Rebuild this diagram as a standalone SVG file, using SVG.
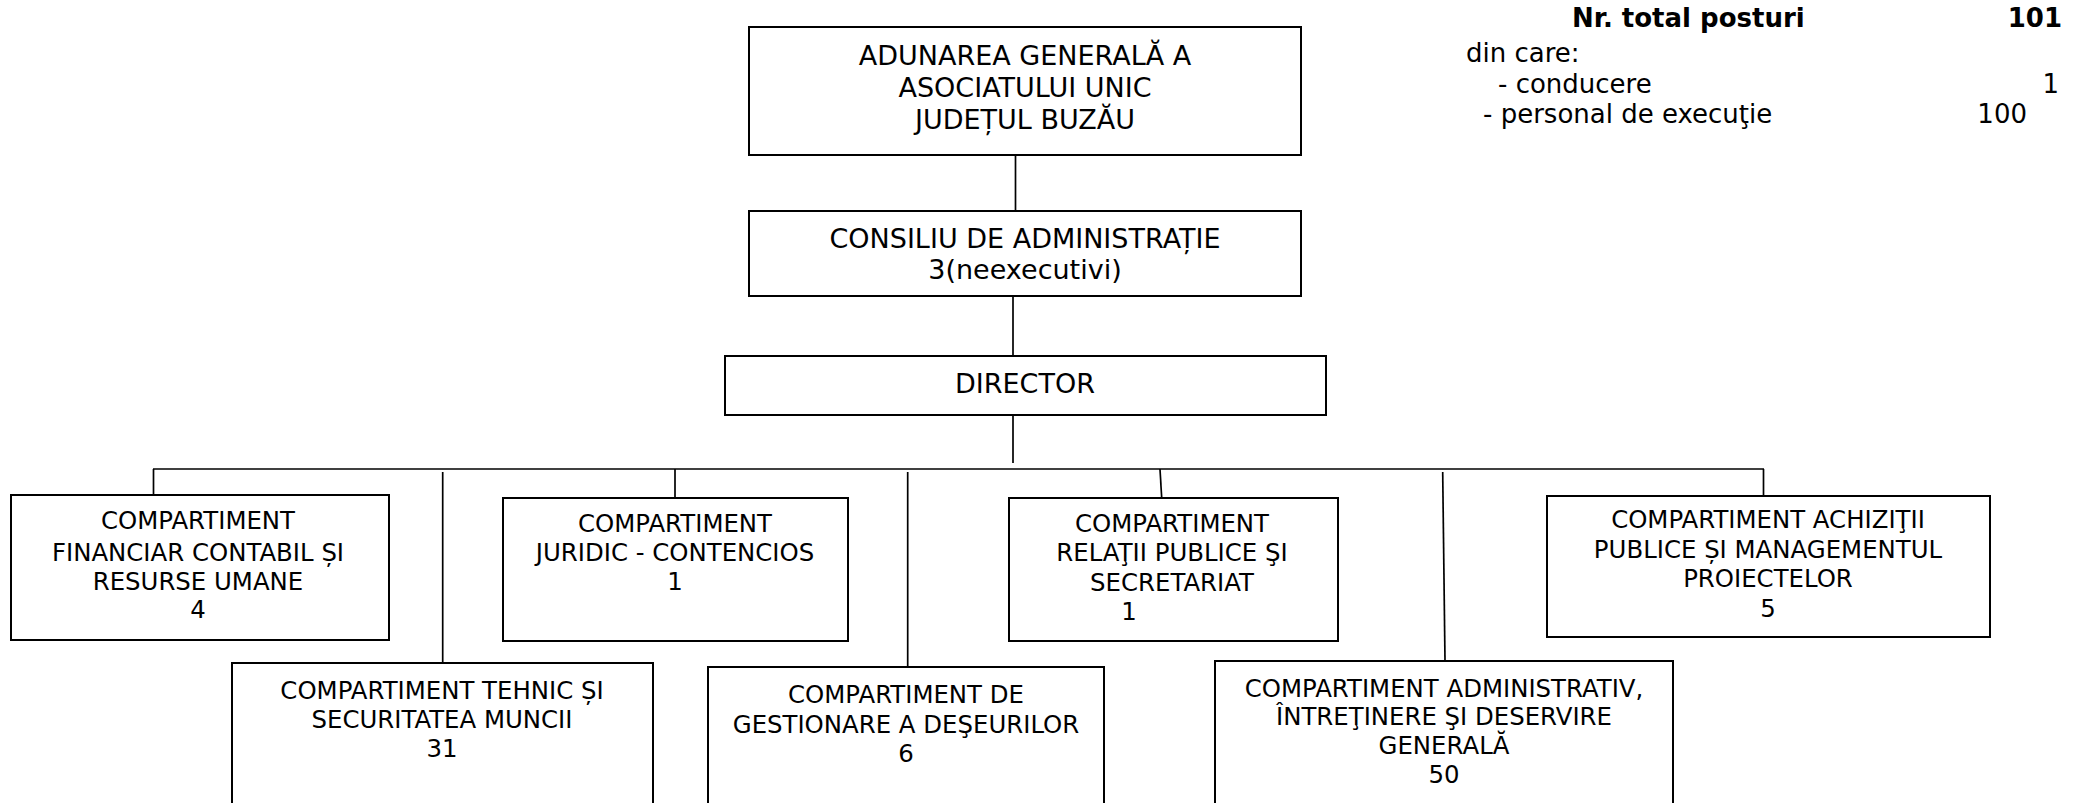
<svg xmlns="http://www.w3.org/2000/svg" width="2087" height="803" viewBox="0 0 2087 803">
<style>
  .box { fill: #fff; stroke: #000; stroke-width: 2; }
  .ln { stroke: #000; stroke-width: 1.7; fill: none; }
  .t { font-family: "DejaVu Sans", Verdana, sans-serif; fill: #000; text-anchor: middle; }
  .big { font-size: 27px; }
  .sm { font-size: 24.4px; }
  .hd { font-family: "DejaVu Sans", Verdana, sans-serif; font-size: 26px; fill: #000; }
  .b { font-weight: bold; }
  .end { text-anchor: end; }
</style>
<rect width="2087" height="803" fill="#fff"/>
<g id="connectors">
  <line class="ln" x1="1015.5" y1="155" x2="1015.5" y2="211"/>
  <line class="ln" x1="1013" y1="296" x2="1013" y2="356"/>
  <line class="ln" x1="1013" y1="415" x2="1013" y2="463"/>
  <line class="ln" x1="153" y1="469" x2="1764" y2="469"/>
  <line class="ln" x1="153.5" y1="469" x2="153.5" y2="495"/>
  <line class="ln" x1="675" y1="469" x2="675" y2="498"/>
  <line class="ln" x1="1160" y1="469" x2="1161.7" y2="498"/>
  <line class="ln" x1="1763.5" y1="469" x2="1763.5" y2="496"/>
  <line class="ln" x1="442.7" y1="472" x2="442.7" y2="663"/>
  <line class="ln" x1="907.7" y1="472" x2="907.7" y2="667"/>
  <line class="ln" x1="1442.7" y1="472" x2="1445" y2="661"/>
</g>
<g id="adunarea">
  <rect class="box" x="749" y="27" width="552" height="128"/>
  <text class="t big" x="1025" y="65">ADUNAREA GENERALĂ A</text>
  <text class="t big" x="1025" y="97">ASOCIATULUI UNIC</text>
  <text class="t big" x="1025" y="129">JUDEȚUL BUZĂU</text>
</g>
<g id="consiliu">
  <rect class="box" x="749" y="211" width="552" height="85"/>
  <text class="t big" x="1025" y="248">CONSILIU DE ADMINISTRAȚIE</text>
  <text class="t big" x="1025" y="279">3(neexecutivi)</text>
</g>
<g id="director">
  <rect class="box" x="725" y="356" width="601" height="59"/>
  <text class="t big" x="1025" y="393">DIRECTOR</text>
</g>
<g id="financiar">
  <rect class="box" x="11" y="495" width="378" height="145"/>
  <text class="t sm" x="198" y="529">COMPARTIMENT</text>
  <text class="t sm" x="198" y="561">FINANCIAR CONTABIL ȘI</text>
  <text class="t sm" x="198" y="590">RESURSE UMANE</text>
  <text class="t sm" x="198" y="618">4</text>
</g>
<g id="juridic">
  <rect class="box" x="503" y="498" width="345" height="143"/>
  <text class="t sm" x="675" y="532">COMPARTIMENT</text>
  <text class="t sm" x="675" y="561">JURIDIC - CONTENCIOS</text>
  <text class="t sm" x="675" y="590">1</text>
</g>
<g id="relatii">
  <rect class="box" x="1009" y="498" width="329" height="143"/>
  <text class="t sm" x="1172" y="532">COMPARTIMENT</text>
  <text class="t sm" x="1172" y="561">RELAŢII PUBLICE ŞI</text>
  <text class="t sm" x="1172" y="591">SECRETARIAT</text>
  <text class="t sm" x="1129" y="620">1</text>
</g>
<g id="achizitii">
  <rect class="box" x="1547" y="496" width="443" height="141"/>
  <text class="t sm" x="1768" y="528">COMPARTIMENT ACHIZIŢII</text>
  <text class="t sm" x="1768" y="558">PUBLICE ȘI MANAGEMENTUL</text>
  <text class="t sm" x="1768" y="587">PROIECTELOR</text>
  <text class="t sm" x="1768" y="617">5</text>
</g>
<g id="tehnic">
  <rect class="box" x="232" y="663" width="421" height="160"/>
  <text class="t sm" x="442" y="699">COMPARTIMENT TEHNIC ȘI</text>
  <text class="t sm" x="442" y="728">SECURITATEA MUNCII</text>
  <text class="t sm" x="442" y="757">31</text>
</g>
<g id="gestionare">
  <rect class="box" x="708" y="667" width="396" height="160"/>
  <text class="t sm" x="906" y="703">COMPARTIMENT DE</text>
  <text class="t sm" x="906" y="733">GESTIONARE A DEŞEURILOR</text>
  <text class="t sm" x="906" y="762">6</text>
</g>
<g id="administrativ">
  <rect class="box" x="1215" y="661" width="458" height="160"/>
  <text class="t sm" x="1444" y="697">COMPARTIMENT ADMINISTRATIV,</text>
  <text class="t sm" x="1444" y="725">ÎNTREŢINERE ŞI DESERVIRE</text>
  <text class="t sm" x="1444" y="754">GENERALĂ</text>
  <text class="t sm" x="1444" y="783">50</text>
</g>
<g id="totals">
  <text class="hd b" x="1572" y="27">Nr. total posturi</text>
  <text class="hd b end" x="2062" y="27">101</text>
  <text class="hd" x="1466" y="62">din care:</text>
  <text class="hd" x="1498" y="93">- conducere</text>
  <text class="hd end" x="2059" y="93">1</text>
  <text class="hd" x="1483" y="123">- personal de execuţie</text>
  <text class="hd end" x="2027" y="123">100</text>
</g>
</svg>
